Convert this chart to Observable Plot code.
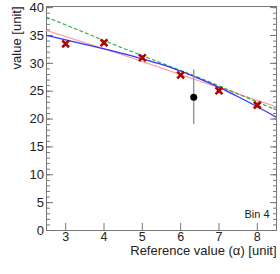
<!DOCTYPE html>
<html><head><meta charset="utf-8">
<script src="https://cdn.jsdelivr.net/npm/d3@7"></script>
<script src="https://cdn.jsdelivr.net/npm/@observablehq/plot@0.6"></script>
<style>body{margin:0;background:#fff}</style>
</head><body><div id="chart"></div>
<script>
// Reference points (red crosses)
const refX = [3, 4, 5, 6, 7, 8];
const refY = [33.5, 33.7, 31.0, 27.9, 25.1, 22.5];
// Measurement (black point with error bar)
const measX = [6.34];
const measY = [23.9];
const measLo = [19.0];
const measHi = [28.8];
// Blue fit curve
const blueX = [2.5, 3, 3.5, 4, 4.5, 5, 5.5, 6, 6.5, 7, 7.5, 8, 8.5];
const blueY = [35.0, 34.2, 33.4, 32.6, 31.75, 30.8, 29.8, 28.6, 27.2, 25.7, 24.0, 22.2, 20.3];
// Green dashed line
const greenX = [2.5, 4.5, 6.5, 8.5];
const greenY = [38.3, 32.7, 27.4, 21.6];
// Pink dotted line
const pinkX = [2.5, 4.5, 6.5, 8.5];
const pinkY = [35.9, 31.5, 26.8, 22.2];
// Ticks
const xTicks = [3, 4, 5, 6, 7, 8];
const yTicks = [0, 5, 10, 15, 20, 25, 30, 35, 40];
const yMinor = d3.range(0, 41, 1);
const xTitle = "Reference value (\u03b1) [unit]";
const yTitle = "value [unit]";
const binLabel = "Bin 4";

const refs = refX.map((x, i) => ({x, y: refY[i]}));
const meas = measX.map((x, i) => ({x, y: measY[i], lo: measLo[i], hi: measHi[i]}));
const blue = blueX.map((x, i) => ({x, y: blueY[i]}));
const green = greenX.map((x, i) => ({x, y: greenY[i]}));
const pink = pinkX.map((x, i) => ({x, y: pinkY[i]}));
const tickColor = "#777";
const none = () => "";

const chart = Plot.plot({
  width: 280, height: 274,
  marginLeft: 46, marginRight: 4, marginTop: 6, marginBottom: 44,
  x: {domain: [2.5, 8.5]},
  y: {domain: [0, 40.2]},
  style: {fontFamily: "'Liberation Sans', Arial, sans-serif", fontSize: "13px", color: "#222", background: "#fff"},
  marks: [
    Plot.axisY(yMinor, {anchor: "left", tickSize: -4, tickFormat: none, label: null, stroke: tickColor}),
    Plot.axisY(yMinor, {anchor: "right", tickSize: -4, tickFormat: none, label: null, stroke: tickColor}),
    Plot.axisY(yTicks, {anchor: "left", tickSize: -7, tickFormat: none, label: null, stroke: tickColor}),
    Plot.axisY(yTicks, {anchor: "right", tickSize: -7, tickFormat: none, label: null, stroke: tickColor}),
    Plot.axisY(yTicks, {anchor: "left", tickSize: 0, tickPadding: 2.5, label: null, fontSize: 13}),
    Plot.axisX(xTicks, {anchor: "bottom", tickSize: -7, tickFormat: none, label: null, stroke: tickColor}),
    Plot.axisX(xTicks, {anchor: "bottom", tickSize: 0, tickPadding: 2, label: null, fontSize: 12.5}),
    Plot.frame({stroke: tickColor}),
    Plot.line(pink, {x: "x", y: "y", stroke: "#ff9a9a", strokeWidth: 1.2, strokeDasharray: "2,1", clip: true}),
    Plot.line(green, {x: "x", y: "y", stroke: "#3cb050", strokeWidth: 1.2, strokeDasharray: "3,3", clip: true}),
    Plot.line(blue, {x: "x", y: "y", stroke: "#3333ff", strokeWidth: 1.3, curve: "natural", clip: true}),
    Plot.dot(refs, {x: "x", y: "y", symbol: "times", r: 3.2, stroke: "#b00000", strokeWidth: 2.6}),
    Plot.ruleX(meas, {x: "x", y1: "lo", y2: "hi", stroke: "#999", strokeWidth: 1.5}),
    Plot.dot(meas, {x: "x", y: "y", r: 3.5, fill: "#000"}),
    Plot.text([binLabel], {frameAnchor: "bottom-right", dx: -7, dy: -13, textAnchor: "end", fontSize: 11, fill: "#222"}),
    Plot.text([xTitle], {frameAnchor: "bottom-right", dy: 24.5, textAnchor: "end", fontSize: 13, fill: "#222"}),
    Plot.text([yTitle], {frameAnchor: "top-left", dx: -35, dy: 0, rotate: -90, textAnchor: "end", fontSize: 13, fill: "#222"})
  ]
});
document.getElementById("chart").append(chart);
</script>
</body></html>
